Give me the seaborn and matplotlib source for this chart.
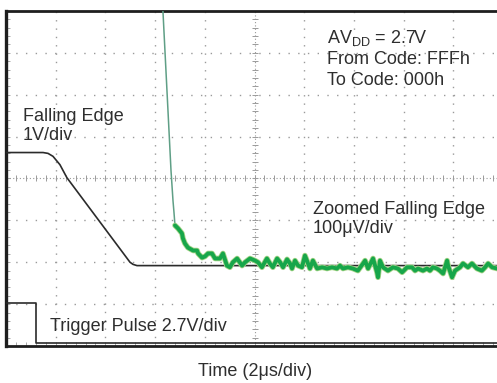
import numpy as np
import pandas as pd
import matplotlib
matplotlib.use("Agg")
import matplotlib.pyplot as plt
import seaborn as sns

# time in us (2 us/div, 10 div), level in screen divisions from centre
falling_t = [0.0, 1.49, 1.69, 1.89, 2.17, 2.45, 4.99, 5.11, 5.27, 20.0]
falling_y = [0.62, 0.62, 0.60, 0.53, 0.33, 0.02, -2.00, -2.05, -2.08, -2.08]

trigger_t = [0.0, 1.21, 1.21, 20.0]
trigger_y = [-2.98, -2.98, -3.94, -3.94]

# zoomed edge: fast drop then settling noise
zoom_fast_t = [6.29, 6.64, 6.72, 6.76, 6.80]
zoom_fast_y = [4.30, 0.19, -0.53, -0.81, -1.12]

zoom_t = [6.80, 6.92, 7.08, 7.12, 7.20, 7.32, 7.53, 7.69, 7.73, 7.89, 8.01, 8.13,
          8.29, 8.41, 8.61, 8.73, 8.89, 9.01, 9.13, 9.30, 9.50, 9.62, 9.82, 10.02,
          10.14, 10.30, 10.50, 10.62, 10.74, 10.91, 11.03, 11.15, 11.31, 11.43, 11.51,
          11.63, 11.75, 11.91, 12.03, 12.11, 12.23, 12.35, 12.52, 12.72, 12.92, 13.12,
          13.32, 13.44, 13.56, 13.76, 13.96, 14.16, 14.37, 14.45, 14.57, 14.77, 14.93,
          14.97, 15.05, 15.17, 15.37, 15.57, 15.77, 15.94, 16.14, 16.34, 16.46, 16.58,
          16.78, 16.94, 17.06, 17.18, 17.34, 17.46, 17.59, 17.75, 17.79, 17.95, 18.07,
          18.27, 18.39, 18.59, 18.75, 18.95, 19.15, 19.28, 19.40, 19.56, 19.76, 20.0]
zoom_y = [-1.12, -1.19, -1.31, -1.43, -1.55, -1.65, -1.72, -1.72, -1.79, -1.89, -1.86, -1.79,
          -1.79, -1.91, -1.91, -1.79, -2.08, -2.12, -2.00, -1.91, -2.08, -2.00, -1.91, -1.96,
          -2.00, -2.12, -1.91, -2.03, -2.12, -1.91, -2.00, -2.12, -1.93, -2.03, -2.15,
          -1.96, -2.08, -2.12, -1.84, -1.96, -2.15, -1.96, -2.15, -2.12, -2.15, -2.12,
          -2.15, -2.08, -2.15, -2.12, -2.15, -2.20, -2.03, -1.96, -2.15, -1.91, -2.24,
          -2.36, -1.96, -2.12, -2.20, -2.12, -2.15, -2.24, -2.12, -2.12, -2.20, -2.15,
          -2.20, -2.15, -2.20, -2.12, -2.15, -2.20, -2.27, -1.96, -2.08, -2.36, -2.20,
          -2.12, -2.03, -2.12, -2.03, -2.15, -2.20, -2.12, -2.03, -2.12, -2.15, -2.12]

sns.set_style("white")
plt.rcParams['font.family'] = ['Liberation Sans', 'DejaVu Sans']
plt.rcParams['mathtext.fontset'] = 'custom'
plt.rcParams['mathtext.rm'] = 'Liberation Sans'

fig = plt.figure(figsize=(4.97, 3.83), dpi=100)
ax = fig.add_axes([6 / 497, 37 / 383, 497 / 497, 335 / 383])
ax.set_xlim(0, 20)
ax.set_ylim(-4, 4)

# graticule
grid_c = "#9a9a9a"
for gx in np.arange(2, 20, 2):
    if gx != 10:
        ax.axvline(gx, color=grid_c, lw=1.0, ls=(0, (1, 5)), zorder=1)
for gy in np.arange(-3, 4, 1):
    if gy != 0:
        ax.axhline(gy, color=grid_c, lw=1.0, ls=(0, (1, 6)), zorder=1)
ax.axvline(10, color=grid_c, lw=0.8, ls=(0, (1, 2)), zorder=1)
ax.axhline(0, color=grid_c, lw=0.8, ls=(0, (1, 2)), zorder=1)
mx = np.arange(0.4, 20, 0.4)
my = np.arange(-3.8, 4, 0.2)
ax.plot(mx, np.zeros_like(mx), ls="none", marker="|", ms=4, mew=0.7, color=grid_c, zorder=1)
ax.plot(np.full_like(my, 10), my, ls="none", marker="_", ms=4, mew=0.7, color=grid_c, zorder=1)

df_fall = pd.DataFrame({"t": falling_t, "v": falling_y})
df_trig = pd.DataFrame({"t": trigger_t, "v": trigger_y})
df_fast = pd.DataFrame({"t": zoom_fast_t, "v": zoom_fast_y})
df_zoom = pd.DataFrame({"t": zoom_t, "v": zoom_y})

sns.lineplot(data=df_fall, x="t", y="v", estimator=None, sort=False, color="#2b2b2b", lw=1.2, ax=ax, zorder=3)
sns.lineplot(data=df_trig, x="t", y="v", estimator=None, sort=False, color="#2b2b2b", lw=1.2, ax=ax, zorder=3)
sns.lineplot(data=df_fast, x="t", y="v", estimator=None, sort=False, color="#5f9f86", lw=1.1, ax=ax, zorder=4)
sns.lineplot(data=df_zoom, x="t", y="v", estimator=None, sort=False, color="#a8d58a", lw=4.0, ax=ax, zorder=4)
sns.lineplot(data=df_zoom, x="t", y="v", estimator=None, sort=False, color="#17a64a", lw=2.8, ax=ax, zorder=5)

tc = "#2e2e2e"
fs = 13
ax.text(0.68, 0.91, "Falling Edge\n1V/div", fontsize=fs, color=tc, va="baseline", ha="left", linespacing=1.2)
ax.text(12.9, 2.24, "AV$_{\\mathrm{DD}}$ = 2.7V\nFrom Code: FFFh\nTo Code: 000h",
        fontsize=fs, color=tc, va="baseline", ha="left", linespacing=1.25)
ax.text(12.35, -1.31, "Zoomed Falling Edge\n100\u03bcV/div", fontsize=fs, color=tc, va="baseline",
        ha="left", linespacing=1.2)
ax.text(1.77, -3.63, "Trigger Pulse 2.7V/div", fontsize=fs, color=tc, va="baseline", ha="left")
fig.text(255 / 497, 1 - 372 / 383, "Time (2\u03bcs/div)", fontsize=fs, color=tc, ha="center", va="center")

ax.set_xlabel("")
ax.set_ylabel("")
ax.set_xticks([])
ax.set_yticks([])
ax.set_yticks(np.arange(-3.8, 4, 0.2), minor=True)
ax.set_xticks(np.arange(0.4, 20, 0.4), minor=True)
ax.tick_params(which="minor", direction="in", length=3, width=0.6, color=grid_c,
               left=True, bottom=True, labelleft=False, labelbottom=False)
for side in ["left", "top", "bottom", "right"]:
    ax.spines[side].set_color("#1e1e1e")
    ax.spines[side].set_linewidth(2.0)
ax.spines["left"].set_linewidth(2.4)

fig.savefig("out.png", dpi=100)
